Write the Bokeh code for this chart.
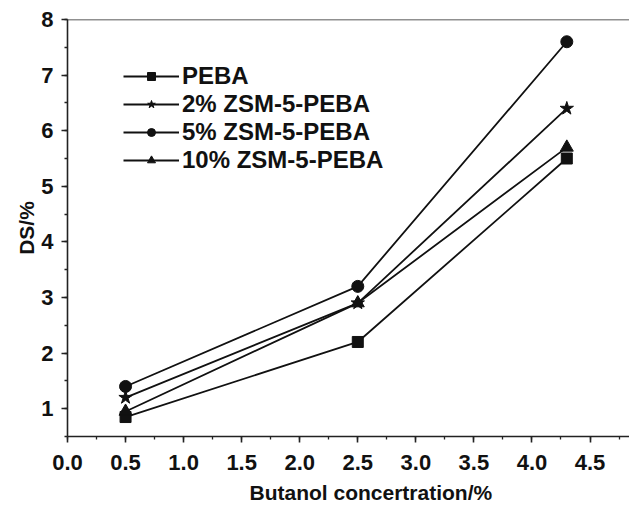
from bokeh.plotting import figure
from bokeh.models import Range1d, Span, Legend, LegendItem, SingleIntervalTicker, NumeralTickFormatter, Title
from bokeh.embed import file_html
from bokeh.resources import INLINE

x = [0.5, 2.5, 4.3]
peba = [0.85, 2.2, 5.5]
zsm2 = [1.2, 2.9, 6.4]
zsm5 = [1.4, 3.2, 7.6]
zsm10 = [0.95, 2.9, 5.7]
names = ["PEBA", "2% ZSM-5-PEBA", "5% ZSM-5-PEBA", "10% ZSM-5-PEBA"]
x_title = "Butanol concertration/%"
y_title = "DS/%"

FONT = "Liberation Sans"

p = figure(width=629, height=509, output_backend="svg", toolbar_location=None,
           x_range=Range1d(0, 4.84), y_range=Range1d(0.5, 8.0))
p.min_border_left = 67
p.min_border_right = 0
p.min_border_top = 19
p.min_border_bottom = 71
p.outline_line_color = None
p.grid.visible = False
p.background_fill_color = "white"
p.border_fill_color = "white"

p.xaxis.ticker = SingleIntervalTicker(interval=0.5, num_minor_ticks=2)
p.yaxis.ticker = SingleIntervalTicker(interval=1, num_minor_ticks=2)
p.xaxis.formatter = NumeralTickFormatter(format="0.0")
p.yaxis.formatter = NumeralTickFormatter(format="0")

for ax in (p.xaxis[0], p.yaxis[0]):
    ax.axis_line_width = 1.6
    ax.axis_line_color = "#222222"
    ax.major_tick_line_color = "#222222"
    ax.minor_tick_line_color = "#222222"
    ax.major_tick_line_width = 1.6
    ax.minor_tick_line_width = 1.3
    ax.major_tick_out = 6
    ax.major_tick_in = 0
    ax.minor_tick_out = 3
    ax.minor_tick_in = 0
    ax.major_label_text_font = FONT
    ax.major_label_text_font_style = "bold"
    ax.major_label_text_font_size = "22px"
    ax.major_label_text_color = "#111111"
    ax.axis_label_text_font = FONT
    ax.axis_label_text_font_style = "bold"
    ax.axis_label_text_font_size = "21px"
    ax.axis_label_text_color = "#111111"

p.yaxis.axis_label = y_title
p.xaxis.major_label_standoff = 12
p.yaxis.major_label_standoff = 8
p.yaxis.axis_label_standoff = 0

# x-axis title placed as a below-title so it can be shifted like the original
xt = Title(text=x_title, align="left", offset=182, text_font=FONT, text_font_style="bold",
           text_font_size="21px", text_color="#111111", standoff=12)
p.add_layout(xt, "below")

p.add_layout(Span(location=8.0, dimension="width", line_color="#222222", line_width=1.6))

col = "#111111"
items = []
series = [(peba, "square", 11), (zsm2, "star", 14), (zsm5, "circle", 12), (zsm10, "triangle", 13)]
for (ys, mk, sz), name in zip(series, names):
    l = p.line(x, ys, line_color=col, line_width=1.8)
    s = p.scatter(x, ys, marker=mk, size=sz, fill_color=col, line_color=col)
    items.append(LegendItem(label=name, renderers=[l, s]))

leg = Legend(items=items)
leg.background_fill_alpha = 0
leg.border_line_color = None
leg.label_text_font = FONT
leg.label_text_font_style = "bold"
leg.label_text_font_size = "24px"
leg.label_text_color = "#111111"
leg.glyph_width = 56
leg.glyph_height = 20
leg.spacing = 0
leg.label_standoff = 3
leg.margin = 0
leg.padding = 0
leg.location = (56, 262)
p.add_layout(leg, "center")

open("out.html", "w").write(file_html(p, INLINE))
